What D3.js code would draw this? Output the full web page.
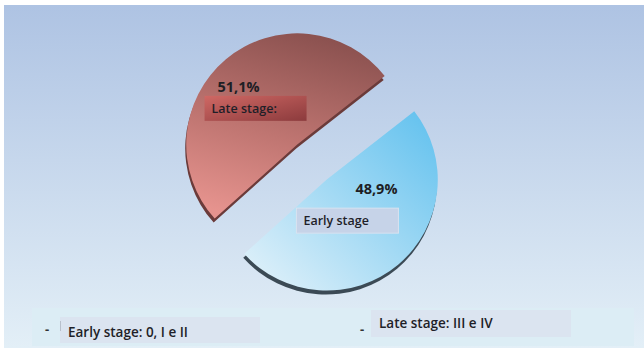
<!DOCTYPE html>
<html>
<head>
<meta charset="utf-8">
<script src="https://cdn.jsdelivr.net/npm/d3@7"></script>
<style>
  body { margin: 0; background: #fff; }
  svg { display: block; font-family: "Open Sans", "Liberation Sans", sans-serif; }
</style>
</head>
<body>
<div id="chart-area"></div>
<script>
// data
var stages = ["Early stage", "Late stage:"];
var shares = [48.9, 51.1];
var shareLabels = ["48,9%", "51,1%"];
var legendLabels = ["Early stage: 0, I e II", "Late stage: III e IV"];

var width = 644,
    height = 350,
    radius = 111,
    explode = 23,
    cx = 312,
    cy = 162;

var svg = d3.select("#chart-area")
  .append("svg")
    .attr("width", width)
    .attr("height", height);

var defs = svg.append("defs");

var bg = defs.append("linearGradient").attr("id", "bg")
    .attr("x1", 0).attr("y1", 0).attr("x2", 0).attr("y2", 1);
bg.append("stop").attr("offset", "0%").attr("stop-color", "#aec3e3");
bg.append("stop").attr("offset", "100%").attr("stop-color", "#e3eff7");

var gRed = defs.append("linearGradient").attr("id", "gRed")
    .attr("x1", 0.6).attr("y1", 0).attr("x2", 0.3).attr("y2", 1);
gRed.append("stop").attr("offset", "0%").attr("stop-color", "#8c5250");
gRed.append("stop").attr("offset", "55%").attr("stop-color", "#bf7571");
gRed.append("stop").attr("offset", "100%").attr("stop-color", "#e6938e");

var gBlue = defs.append("linearGradient").attr("id", "gBlue")
    .attr("x1", 1).attr("y1", 0).attr("x2", 0).attr("y2", 1);
gBlue.append("stop").attr("offset", "0%").attr("stop-color", "#5fc0ee");
gBlue.append("stop").attr("offset", "100%").attr("stop-color", "#e6f3fa");

var gLate = defs.append("linearGradient").attr("id", "gLate")
    .attr("x1", 0).attr("y1", 0).attr("x2", 1).attr("y2", 1);
gLate.append("stop").attr("offset", "0%").attr("stop-color", "#cf6864");
gLate.append("stop").attr("offset", "100%").attr("stop-color", "#8c3b3d");

// background panel
svg.append("rect")
    .attr("x", 4).attr("y", 5)
    .attr("width", width - 4).attr("height", height - 7)
    .attr("fill", "url(#bg)");

var color = d3.scaleOrdinal().domain(stages).range(["url(#gBlue)", "url(#gRed)"]);
var sideColor = d3.scaleOrdinal().domain(stages).range(["#3b4a55", "#6b3b3a"]);

var start = 52 * Math.PI / 180;
var pie = d3.pie()
    .sort(null)
    .startAngle(start)
    .endAngle(start + 2 * Math.PI)
    .value(function(d) { return d.value; });

var arc = d3.arc().innerRadius(0).outerRadius(radius);

var data = stages.map(function(s, i) {
  return { key: s, value: shares[i], label: shareLabels[i] };
});

var g = svg.append("g")
    .attr("transform", "translate(" + cx + "," + cy + ")");

var slices = g.selectAll(".arc")
  .data(pie(data))
  .enter().append("g")
    .attr("class", "arc")
    .attr("transform", function(d) {
      var a = (d.startAngle + d.endAngle) / 2;
      return "translate(" + (Math.sin(a) * explode) + "," + (-Math.cos(a) * explode) + ")";
    });

// thickness edge
slices.append("path")
    .attr("d", arc)
    .attr("transform", "translate(-1,4)")
    .style("fill", function(d) { return sideColor(d.data.key); });

slices.append("path")
    .attr("d", arc)
    .style("fill", function(d) { return color(d.data.key); });

// label offsets relative to slice centroid
var pctOffset = { "Early stage": [14, -28], "Late stage:": [-23, -10] };
var boxOffset = { "Early stage": [-66, -14], "Late stage:": [-57, -6] };
var boxFill = { "Early stage": "#c6d3e8", "Late stage:": "url(#gLate)" };

slices.append("text")
    .attr("transform", function(d) {
      var c = arc.centroid(d), o = pctOffset[d.data.key];
      return "translate(" + (c[0] + o[0]) + "," + (c[1] + o[1]) + ")";
    })
    .attr("text-anchor", "middle")
    .attr("font-size", 14.5)
    .attr("font-weight", 700)
    .attr("fill", "#1e1e24")
    .text(function(d) { return d.data.label; });

var boxes = slices.append("g")
    .attr("transform", function(d) {
      var c = arc.centroid(d), o = boxOffset[d.data.key];
      return "translate(" + (c[0] + o[0]) + "," + (c[1] + o[1]) + ")";
    });

boxes.append("rect")
    .attr("width", 102).attr("height", 25)
    .attr("fill", function(d) { return boxFill[d.data.key]; })
    .attr("stroke", function(d) { return d.data.key === "Early stage" ? "#d8e2f0" : "none"; });

boxes.append("text")
    .attr("x", 7).attr("y", 17)
    .attr("font-size", 12.5)
    .attr("font-weight", 600)
    .attr("fill", "#1f1f28")
    .text(function(d) { return d.data.key; });

// legend band
var legend = svg.append("g");
legend.append("rect")
    .attr("x", 32).attr("y", 308)
    .attr("width", 602).attr("height", 38)
    .attr("fill", "#dcedf5");

var legendPos = [
  { dash: [45, 334], box: [60, 317, 200, 26], text: [68, 337] },
  { dash: [360, 334], box: [371, 310, 200, 27], text: [379, 328] }
];

var items = legend.selectAll(".item")
  .data(legendLabels)
  .enter().append("g")
    .attr("class", "item");

items.append("rect")
    .attr("x", function(d, i) { return legendPos[i].box[0]; })
    .attr("y", function(d, i) { return legendPos[i].box[1]; })
    .attr("width", function(d, i) { return legendPos[i].box[2]; })
    .attr("height", function(d, i) { return legendPos[i].box[3]; })
    .attr("fill", "#dbe4f0");

items.append("text")
    .attr("x", function(d, i) { return legendPos[i].dash[0]; })
    .attr("y", function(d, i) { return legendPos[i].dash[1]; })
    .attr("font-size", 13)
    .attr("font-weight", 700)
    .attr("fill", "#333")
    .text("-");

items.append("text")
    .attr("x", function(d, i) { return legendPos[i].text[0]; })
    .attr("y", function(d, i) { return legendPos[i].text[1]; })
    .attr("font-size", 13.5)
    .attr("font-weight", 600)
    .attr("fill", "#1f1f28")
    .text(function(d) { return d; });

legend.append("line")
    .attr("x1", 60.5).attr("x2", 60.5)
    .attr("y1", 321).attr("y2", 331)
    .attr("stroke", "#b8c0cc");
</script>
</body>
</html>
